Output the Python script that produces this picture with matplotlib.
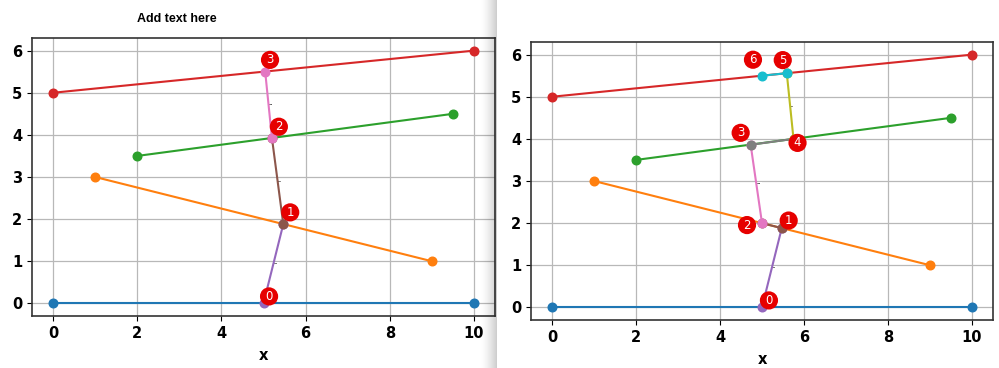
import matplotlib
matplotlib.use("Agg")
import matplotlib.pyplot as plt
import numpy as np

# base lines: start / end points
base_x0 = [0, 1, 2, 0]
base_y0 = [0, 3, 3.5, 5]
base_x1 = [10, 9, 9.5, 10]
base_y1 = [0, 1, 4.5, 6]

# walking paths between the lines
left_path_x = [5.0, 5.47, 5.2, 5.04]
left_path_y = [0.0, 1.88, 3.93, 5.50]
right_path_x = [5.0, 5.47, 5.0, 4.73, 5.75, 5.59, 5.0]
right_path_y = [0.0, 1.88, 2.0, 3.86, 4.0, 5.56, 5.5]

# label offsets (points) for the numbered badges
left_offsets = [(4, 5), (5, 8.5), (5, 8), (3.5, 8.5)]
right_offsets = [(5, 5), (5, 5.5), (-10.8, -1.4), (-7.2, 8.6), (2.9, -2.9),
                 (-2.9, 9.4), (-6.5, 11.5)]

plt.rcParams["font.family"] = "DejaVu Sans"
plt.rcParams["font.weight"] = "bold"

fig = plt.figure(figsize=(9.99, 3.68), dpi=100)
W, H = 999, 368
ax_l = fig.add_axes([32 / W, (H - 316) / H, 463 / W, 278 / H])
ax_r = fig.add_axes([531 / W, (H - 320) / H, 462 / W, 278 / H])


def draw(ax, px, py, offsets):
    for i in range(len(base_x0)):
        ax.plot([base_x0[i], base_x1[i]], [base_y0[i], base_y1[i]],
                marker="o", ms=6.2, lw=1.5, color=f"C{i}")
    for k in range(len(px) - 1):
        ax.plot(px[k:k + 2], py[k:k + 2], marker="o", ms=6.2, lw=1.5,
                color=f"C{(4 + k) % 10}")
        # tiny distance tag at the midpoint (barely visible, as in the original)
        mx, my = (px[k] + px[k + 1]) / 2, (py[k] + py[k + 1]) / 2
        d = np.hypot(px[k + 1] - px[k], py[k + 1] - py[k])
        ax.text(mx, my, f"{d:.2f}", fontsize=1.2, ha="left", va="center",
                bbox=dict(fc="white", ec="none", pad=1.0), zorder=1.5)
    for k, (x, y) in enumerate(zip(px, py)):
        ax.annotate(str(k), (x, y), xytext=offsets[k], textcoords="offset points",
                    ha="center", va="center", color="white", fontsize=8.5,
                    fontweight="normal",
                    bbox=dict(boxstyle="circle,pad=0.22", fc="#e60000", ec="none"),
                    zorder=6)
    ax.set_xlim(-0.5, 10.5)
    ax.set_ylim(-0.3, 6.3)
    ax.set_xticks([0, 2, 4, 6, 8, 10])
    ax.set_yticks(range(7))
    ax.grid(True, color="#b8b8b8", lw=0.9)
    ax.set_axisbelow(True)
    ax.tick_params(labelsize=10.5)
    for s in ax.spines.values():
        s.set_color("#333333")
        s.set_linewidth(1.2)
    ax.set_xlabel("x", fontsize=10.5, fontweight="bold", labelpad=5)


draw(ax_l, left_path_x, left_path_y, left_offsets)
draw(ax_r, right_path_x, right_path_y, right_offsets)

ax_l.text(0.313, 1.068, "Add text here", transform=ax_l.transAxes,
          ha="center", va="center", fontsize=9, fontweight="bold",
          family="Liberation Sans")

# screenshot shadow between the two captures
shade = fig.add_axes([480 / W, 0, 17 / W, 1], zorder=10)
ramp = np.zeros((1, 64, 4))
ramp[0, :, 3] = 0.2 * np.linspace(0, 1, 64) ** 1.5
shade.imshow(ramp, aspect="auto", extent=(0, 1, 0, 1))
shade.axis("off")

fig.savefig("out.png", dpi=100)
